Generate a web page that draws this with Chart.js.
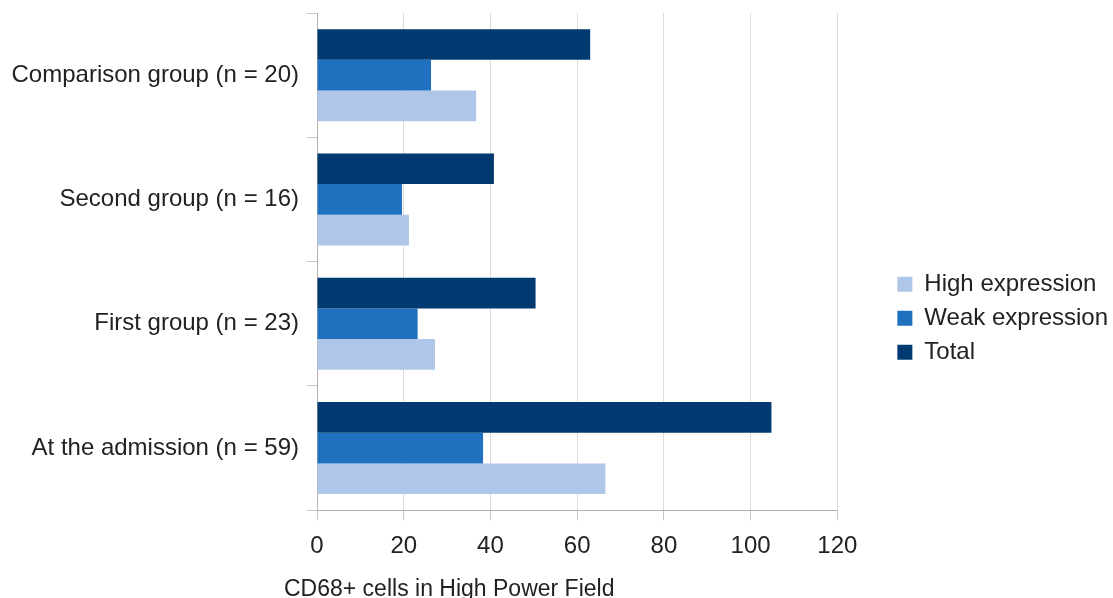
<!DOCTYPE html>
<html>
<head>
<meta charset="utf-8">
<script src="https://cdn.jsdelivr.net/npm/chart.js@4/dist/chart.umd.min.js"></script>
<style>
  html, body { margin: 0; padding: 0; background: #fff; overflow: hidden; }
  #wrap { width: 1113px; height: 607px; position: relative; }
</style>
</head>
<body>
<div id="wrap"><canvas id="c"></canvas></div>
<script>
// Groups, listed top to bottom
const categories = [
  'Comparison group (n = 20)',
  'Second group (n = 16)',
  'First group (n = 23)',
  'At the admission (n = 59)'
];
// CD68+ cell counts per group
const highExpression = [36.7, 21.2, 27.2, 66.5];
const weakExpression = [26.3, 19.6, 23.2, 38.3];
const totalCells     = [63.0, 40.8, 50.4, 104.8];
const xTicks = [0, 20, 40, 60, 80, 100, 120];
const xAxisTitle = 'CD68+ cells in High Power Field';

const FONT = "'Liberation Sans', Arial, sans-serif";

// Axis caption sits under the tick labels, starting a little left of the plot edge
const axisCaption = {
  id: 'axisCaption',
  afterDraw(chart) {
    const sx = chart.scales.x;
    const ctx = chart.ctx;
    ctx.save();
    ctx.font = "23px 'Liberation Sans', Arial, sans-serif";
    ctx.fillStyle = '#222';
    ctx.textAlign = 'left';
    ctx.textBaseline = 'alphabetic';
    ctx.fillText(xAxisTitle, sx.left - 33, sx.top + 86);
    ctx.restore();
  }
};

new Chart(document.getElementById('c'), {
  type: 'bar',
  data: {
    labels: categories,
    datasets: [
      { label: 'Total', data: totalCells, backgroundColor: '#003a70' },
      { label: 'Weak expression', data: weakExpression, backgroundColor: '#1f70be' },
      { label: 'High expression', data: highExpression, backgroundColor: '#aec6e8' }
    ]
  },
  plugins: [axisCaption],
  options: {
    indexAxis: 'y',
    responsive: true,
    maintainAspectRatio: false,
    animation: false,
    layout: { padding: { left: 12, top: 13, right: -5, bottom: 0 } },
    datasets: { bar: { categoryPercentage: 0.74, barPercentage: 1.0, borderWidth: 0 } },
    scales: {
      x: {
        min: 0,
        max: 120,
        afterBuildTicks: (axis) => { axis.ticks = xTicks.map(v => ({ value: v })); },
        // leave room below the tick labels for the caption
        afterFit: (s) => { s.height += 34; },
        grid: { color: '#dcdcdc', tickColor: '#c8c8c8', tickLength: 10, lineWidth: 1 },
        border: { color: '#b3b3b3' },
        ticks: { color: '#222', font: { family: FONT, size: 24 }, padding: 12 }
      },
      y: {
        afterFit: (s) => { s.width = 305; s.paddingTop = 0; s.paddingBottom = 0; },
        grid: { display: true, offset: true, drawOnChartArea: false, tickLength: 10, tickColor: '#c8c8c8' },
        border: { color: '#b3b3b3' },
        ticks: { color: '#222', font: { family: FONT, size: 24 }, padding: 8 }
      },
      // empty spacer between the plot and the legend
      gap: {
        type: 'linear',
        position: 'right',
        display: false,
        afterFit: (s) => { s.width = 50; s.paddingTop = 0; s.paddingBottom = 0; }
      }
    },
    plugins: {
      legend: {
        position: 'right',
        reverse: true,
        // blank title row nudges the entries down a little
        title: { display: true, text: ' ', font: { family: FONT, size: 12 }, padding: 1 },
        labels: {
          boxWidth: 15,
          boxHeight: 15,
          padding: 10,
          color: '#222',
          font: { family: FONT, size: 24 }
        }
      },
      tooltip: { enabled: false }
    }
  }
});
</script>
</body>
</html>
